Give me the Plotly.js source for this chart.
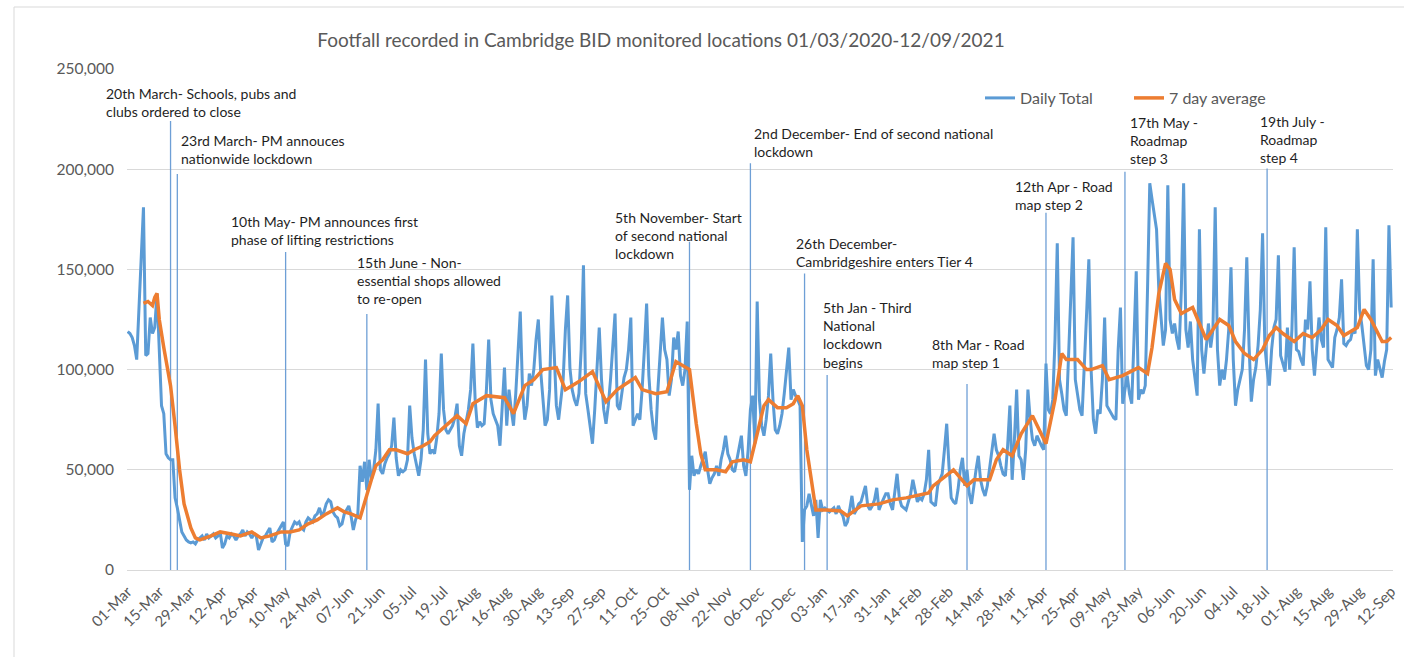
<!DOCTYPE html>
<html>
<head>
<meta charset="utf-8">
<title>Cambridge BID footfall</title>
<script src="https://cdn.plot.ly/plotly-3.0.1.min.js"></script>
<style>
  html, body { margin: 0; padding: 0; background: #ffffff; }
  #chart { width: 1404px; height: 657px; }
</style>
</head>
<body>
<div id="chart"></div>
<script>
// Daily footfall across the Cambridge BID monitored locations.
// One array per calendar month, first value = the 1st of that month.
const startDate = '2020-03-01';

const daily2020Mar = [119000,118000,116000,112000,105000,130000,158000,181000,107000,108000,126000,118000,121000,138000,110000,82000,78000,58000,56000,55000,55000,36000,31000,25000,19000,17000,15000,14000,13500,14000,13000];
const daily2020Apr = [15000,16000,17000,15000,18000,16000,17000,18000,16000,17000,19000,11000,13000,17000,16000,18000,17000,15000,17000,18000,20000,17000,19000,18000,16000,18000,17000,10000,13000,16000];
const daily2020May = [17000,19000,21000,14000,15000,18000,20000,22000,24000,13000,12000,19000,22000,24000,23000,24000,21000,20000,24000,26000,25000,24000,27000,28000,31000,27000,29000,33000,35000,34000,29000];
const daily2020Jun = [27000,26000,22000,23000,28000,30000,32000,27000,20000,25000,28000,52000,44000,54000,40000,55000,45000,50000,60000,83000,50000,48000,53000,56000,58000,62000,76000,56000,47000,50000];
const daily2020Jul = [49000,50000,55000,82000,66000,58000,52000,47000,55000,70000,105000,68000,58000,60000,58000,66000,78000,108000,80000,70000,68000,70000,72000,76000,83000,62000,57000,68000,75000,80000,90000];
const daily2020Aug = [113000,85000,71000,74000,72000,73000,90000,115000,85000,78000,75000,72000,62000,80000,101000,72000,90000,80000,72000,88000,110000,129000,90000,75000,82000,98000,92000,100000,115000,125000,100000];
const daily2020Sep = [88000,72000,75000,90000,137000,105000,82000,75000,85000,95000,120000,137000,101000,90000,85000,82000,88000,110000,152000,88000,80000,70000,63000,80000,100000,121000,95000,80000,73000,82000];
const daily2020Oct = [95000,110000,128000,82000,80000,88000,96000,100000,110000,126000,72000,75000,78000,75000,90000,110000,133000,97000,80000,70000,65000,90000,110000,126000,110000,105000,87000,95000,116000,110000,119000];
const daily2020Nov = [97000,92000,100000,124000,40000,57000,47000,50000,48000,52000,55000,59000,50000,43000,46000,48000,52000,47000,55000,60000,67000,58000,55000,50000,49000,55000,60000,67000,52000,47000];
const daily2020Dec = [60000,80000,87000,63000,134000,85000,72000,67000,75000,87000,108000,85000,70000,68000,72000,78000,88000,100000,111000,85000,90000,87000,85000,82000,14000,30000,32000,38000,33000,27000,35000];
const daily2021Jan = [16000,35000,30000,31000,30000,29000,30000,31000,28000,32000,29000,27000,22000,24000,30000,37000,28000,30000,33000,34000,38000,42000,32000,30000,32000,35000,41000,30000,33000,36000,38000];
const daily2021Feb = [38000,33000,30000,40000,48000,36000,32000,31000,30000,34000,38000,45000,40000,34000,36000,35000,38000,45000,60000,34000,33000,32000,42000,45000,48000,60000,73000,52000];
const daily2021Mar = [36000,34000,33000,40000,50000,56000,42000,50000,38000,33000,42000,50000,57000,45000,40000,37000,42000,50000,60000,68000,60000,57000,52000,48000,47000,62000,82000,45000,65000,90000,57000];
const daily2021Apr = [55000,45000,60000,90000,75000,65000,62000,67000,64000,62000,60000,103000,80000,78000,85000,115000,163000,95000,88000,80000,77000,105000,135000,166000,95000,88000,80000,77000,100000,128000];
const daily2021May = [155000,100000,75000,68000,80000,78000,95000,126000,82000,80000,78000,76000,75000,110000,131000,83000,90000,97000,88000,83000,115000,149000,85000,90000,88000,92000,140000,193000,185000,178000,170000];
const daily2021Jun = [140000,125000,112000,120000,192000,125000,118000,123000,115000,110000,140000,193000,120000,111000,124000,105000,95000,87000,170000,110000,98000,110000,123000,111000,120000,181000,110000,92000,100000,95000];
const daily2021Jul = [105000,120000,151000,105000,82000,90000,95000,100000,120000,156000,112000,84000,95000,101000,112000,130000,168000,112000,100000,92000,110000,121000,125000,157000,107000,103000,99000,121000,100000,120000,161000];
const daily2021Aug = [110000,109000,105000,102000,125000,120000,144000,110000,97000,110000,126000,115000,111000,171000,105000,103000,101000,116000,120000,126000,145000,113000,112000,114000,115000,120000,118000,170000,130000,122000,112000];
const daily2021Sep = [102000,100000,110000,155000,97000,105000,100000,96000,104000,110000,172000,131000];

// 7 day average, read at the listed days (days counted from 1 March 2020), values in thousands
const weekAvgDay = [7,9,11,12,13,14,16,19,21,23,25,28,30,32,37,41,46,50,55,59,63,68,72,76,80,84,88,93,96,99,103,106,108,110,113,116,119,124,127,131,134,136,141,146,150,153,159,167,171,176,180,184,190,194,200,206,212,217,225,228,234,239,243,247,249,252,254,256,261,265,268,273,276,279,282,284,288,292,295,297,299,301,303,305,310,316,319,325,333,339,345,355,357,363,366,372,375,382,385,388,392,396,401,407,411,414,416,421,425,427,432,435,441,448,452,454,457,460,462,464,467,472,478,484,488,491,495,499,503,506,509,512,517,521,525,529,532,536,539,545,548,551,554,556,558,560];
const weekAvgThousands = [133,134,132,136,138,125,111,92,72,50,33,21,16,15,17,19,18,17,19,16,17,19,19,20,23,25,28,31,29,28,26,38,45,52,55,60,60,58,60,62,64,67,72,77,73,83,87,86,78,92,95,100,101,90,94,99,84,90,96,90,88,89,104,101,100,73,58,50,50,49,54,55,54,68,82,85,81,81,83,87,82,60,45,30,30,29.5,27,32,33,35,36,38.5,42,47,50,42,45,45,55,60,57,68,77,63,85,108,105,105,100,100,102,95,97,101,98,111,138,153,150,135,128,131,115,125,122,114,108,105,110,117,121,118,114,118,116,120,125,122,117,121,130,125,118,114,114,116];

// Key dates of the restrictions, with the height each marker line reaches
const eventDates = ['2020-03-20','2020-03-23','2020-05-10','2020-06-15','2020-11-05','2020-12-02','2020-12-26','2021-01-05','2021-03-08','2021-04-12','2021-05-17','2021-07-19'];
const eventTops = [224000,197600,158700,127700,163800,203000,148000,97300,92800,178300,198700,200400];
const eventLabels = [
  '20th March- Schools, pubs and<br>clubs ordered to close',
  '23rd March- PM annouces<br>nationwide lockdown',
  '10th May- PM announces first<br>phase of lifting restrictions',
  '15th June - Non-<br>essential shops allowed<br>to re-open',
  '5th November- Start<br>of second national<br>lockdown',
  '2nd December- End of second national<br>lockdown',
  '26th December-<br>Cambridgeshire enters Tier 4',
  '5th Jan - Third<br>National<br>lockdown<br>begins',
  '8th Mar - Road<br>map step 1',
  '12th Apr - Road<br>map step 2',
  '17th May -<br>Roadmap<br>step 3',
  '19th July -<br>Roadmap<br>step 4'
];

// ---- build the series ----
const DAY = 86400000;
const t0 = Date.parse(startDate + 'T00:00:00Z');
const isoDay = n => new Date(t0 + n * DAY).toISOString().slice(0, 10);
const isoStamp = ms => new Date(ms).toISOString().replace('T', ' ').replace('Z', '');

const dailyTotal = [].concat(
  daily2020Mar, daily2020Apr, daily2020May, daily2020Jun, daily2020Jul, daily2020Aug,
  daily2020Sep, daily2020Oct, daily2020Nov, daily2020Dec, daily2021Jan, daily2021Feb,
  daily2021Mar, daily2021Apr, daily2021May, daily2021Jun, daily2021Jul, daily2021Aug, daily2021Sep
);
const dailyDates = dailyTotal.map((_, i) => isoDay(i));
const avgDates = weekAvgDay.map(isoDay);
const avgValues = weekAvgThousands.map(v => v * 1000);

const evX = [], evY = [];
eventDates.forEach((d, i) => { evX.push(d, d, null); evY.push(0, eventTops[i], null); });

// ---- page geometry ----
const W = 1404, H = 657;
const M = { l: 127, r: 11, t: 69, b: 87 };
const PW = W - M.l - M.r, PH = H - M.t - M.b;
const px = v => (v - M.l) / PW;
const py = v => 1 - (v - M.t) / PH;

const FONT = 'Lato, "Open Sans", "Liberation Sans", sans-serif';
const GREY = '#595959';
const BLUE = '#5b9bd5';
const ORANGE = '#ed7d31';

// where each event caption sits: [left edge, middle of first line] in pixels
const labelPos = [[107,93],[182,140],[232,221],[358,262],[616,217],[755,133],[797,243],[824,307],[933,344],[1016,186],[1131,122],[1261,121]];

const traces = [
  {
    x: evX, y: evY, type: 'scatter', mode: 'lines',
    line: { color: '#6e9fd6', width: 1.3 },
    hoverinfo: 'skip', showlegend: false
  },
  {
    name: 'Daily Total', x: dailyDates, y: dailyTotal, type: 'scatter', mode: 'lines',
    line: { color: BLUE, width: 3 }
  },
  {
    name: '7 day average', x: avgDates, y: avgValues, type: 'scatter', mode: 'lines',
    line: { color: ORANGE, width: 3.5 }
  }
];

const annotations = eventLabels.map((txt, i) => ({
  text: txt, xref: 'paper', yref: 'paper',
  x: px(labelPos[i][0] - 3), y: py(labelPos[i][1] - 10),
  xanchor: 'left', yanchor: 'top', align: 'left', showarrow: false,
  font: { family: FONT, size: 14, color: '#1f1f1f' }
}));

const layout = {
  width: W, height: H,
  margin: M,
  paper_bgcolor: '#ffffff', plot_bgcolor: '#ffffff',
  font: { family: FONT, color: GREY },
  title: {
    text: 'Footfall recorded in Cambridge BID monitored locations 01/03/2020-12/09/2021',
    x: 661 / W, xanchor: 'center', y: 1 - 40 / H, yanchor: 'middle',
    font: { family: FONT, size: 19, color: GREY }
  },
  xaxis: {
    type: 'date',
    range: [isoStamp(t0 - 0.3 * DAY), isoStamp(t0 + (dailyTotal.length - 1 + 0.8) * DAY)],
    tick0: startDate, dtick: 14 * DAY, tickformat: '%d-%b', tickangle: -45,
    showgrid: false, zeroline: false, showline: true, linecolor: '#d9d9d9', linewidth: 1,
    ticks: '', ticklabelstandoff: 6,
    tickfont: { family: FONT, size: 15, color: GREY }
  },
  yaxis: {
    range: [0, 250000], dtick: 50000, tickformat: ',',
    showgrid: true, gridcolor: '#d9d9d9', gridwidth: 1, zeroline: false, showline: false,
    ticks: '', ticklabelstandoff: 12,
    tickfont: { family: FONT, size: 15.5, color: GREY }
  },
  legend: {
    orientation: 'h', x: px(980), y: py(98), xanchor: 'left', yanchor: 'middle',
    entrywidth: 104, entrywidthmode: 'pixels',
    bgcolor: 'rgba(0,0,0,0)', font: { family: FONT, size: 16, color: GREY }
  },
  // chart frame: its top and left edges show, the rest runs off the page
  shapes: [
    { type: 'line', xref: 'paper', yref: 'paper', layer: 'below',
      x0: px(14), x1: px(1410), y0: py(7), y1: py(7),
      line: { color: '#d9d9d9', width: 1 } },
    { type: 'line', xref: 'paper', yref: 'paper', layer: 'below',
      x0: px(14), x1: px(14), y0: py(7), y1: py(665),
      line: { color: '#d9d9d9', width: 1 } }
  ],
  annotations: annotations,
  hovermode: false
};

Plotly.newPlot('chart', traces, layout, { staticPlot: true, displayModeBar: false });
</script>
</body>
</html>
